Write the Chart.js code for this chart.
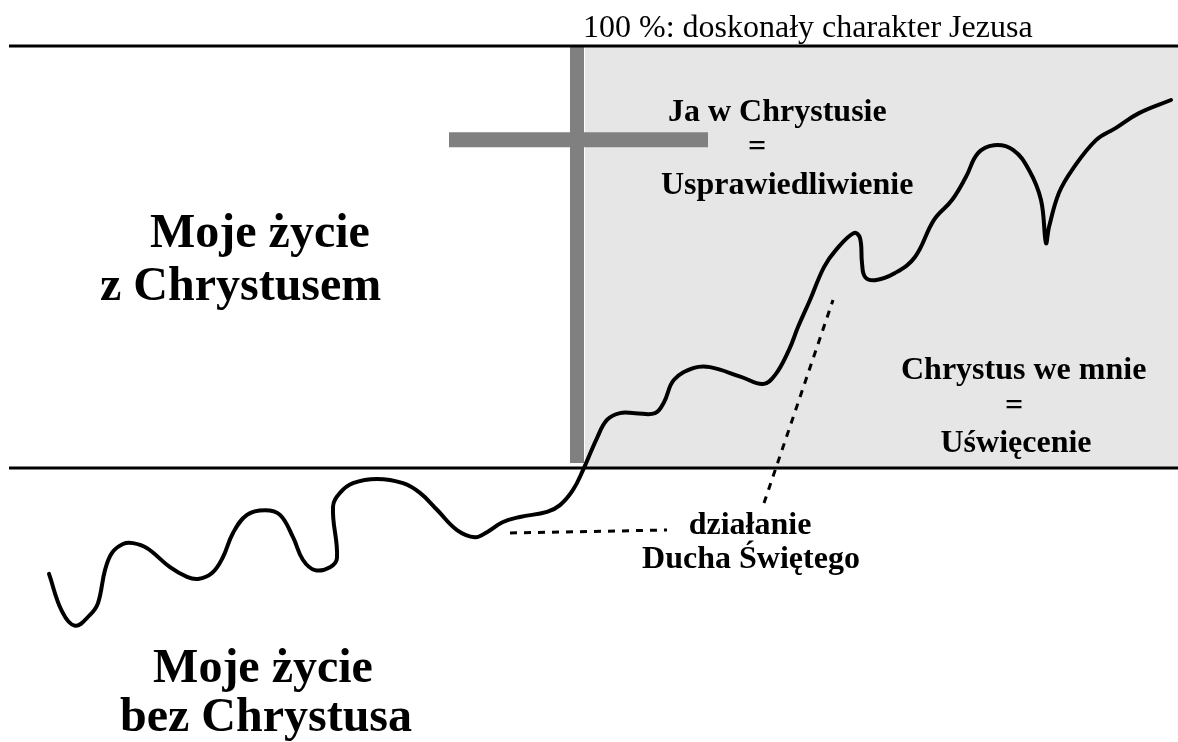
<!DOCTYPE html>
<html>
<head>
<meta charset="utf-8">
<script src="https://cdn.jsdelivr.net/npm/chart.js@4"></script>
<style>
  html, body { margin: 0; padding: 0; background: #ffffff; }
  #wrap { width: 1178px; height: 742px; }
</style>
</head>
<body>
<div id="wrap"><canvas id="c" width="1178" height="742"></canvas></div>
<script>
// ---- data (x: time axis, y: % of Jesus' character, 0 = life without Christ line, 100 = perfect) ----
const lifeX = [49,62,75,90,98,105,112,123,133,147,170,187,198,212,223,233,247,265,280,293,303,315,330,337,333,340,353,377,403,420,437,457,475,487,503,520,547,560,573,583,597,607,620,635,655,664,674,694,710,741,763,775,789,798,810,824,836,854,860,862,865,875,895,915,934,952,966,978,994,1013,1029,1041,1046,1049,1059,1072,1096,1116,1139,1171];
const lifeY = [-25.1,-34.0,-37.4,-34.8,-32.0,-24.2,-20.1,-18.0,-17.8,-19.0,-23.5,-25.8,-26.3,-24.9,-21.1,-15.4,-11.1,-10.0,-11.1,-16.4,-21.8,-24.2,-23.5,-21.3,-9.2,-5.9,-3.6,-2.6,-3.6,-5.9,-9.9,-14.7,-16.4,-15.2,-12.8,-11.6,-10.4,-8.8,-5.2,-0.5,7.1,11.4,13.0,13.0,13.0,15.6,20.9,23.7,23.9,21.6,19.9,22.0,28.0,33.4,39.8,47.6,51.7,55.7,54.5,48.6,45.3,44.5,46.2,50.0,58.8,63.5,69.0,74.6,76.5,75.4,70.6,63.5,53.3,57.1,65.2,70.6,77.7,80.6,84.1,87.2];

const levelX = [9, 1178];          // extent of the 0 % and 100 % lines
const topLevel = [100, 100];       // 100 %: perfect character
const baseLevel = [0, 0];          // 0 %
const graceX = [585, 1178];        // shaded "in Christ" zone
const graceY = [100, 100];
const crossStemX = [577, 577];
const crossStemY = [100, 1.2];
const crossBeamX = [449, 708];
const crossBeamY = [77.8, 77.8];
const spiritHX = [510, 667];
const spiritHY = [-15.4, -14.7];
const spiritDX = [764, 833];
const spiritDY = [-8.3, 39.8];

const labels = [
  "100 %: doskonały charakter Jezusa",
  "Ja w Chrystusie", "=", "Usprawiedliwienie",
  "Moje życie", "z Chrystusem",
  "Chrystus we mnie", "=", "Uświęcenie",
  "działanie", "Ducha Świętego",
  "Moje życie", "bez Chrystusa"
];

// ---- layout / styles (separate from data) ----
const labelLayout = [
  { x: 583, y: 37,  align: 'left',   font: '32px "Liberation Serif"' },
  { x: 668, y: 121, align: 'left',   font: 'bold 32px "Liberation Serif"' },
  { x: 757, y: 156, align: 'center', font: 'bold 32px "Liberation Serif"' },
  { x: 661, y: 194, align: 'left',   font: 'bold 32px "Liberation Serif"' },
  { x: 150, y: 247, align: 'left',   font: 'bold 48px "Liberation Serif"' },
  { x: 100, y: 300, align: 'left',   font: 'bold 48px "Liberation Serif"' },
  { x: 901, y: 379, align: 'left',   font: 'bold 32px "Liberation Serif"' },
  { x: 1014, y: 415, align: 'center', font: 'bold 32px "Liberation Serif"' },
  { x: 1016, y: 452, align: 'center', font: 'bold 32px "Liberation Serif"' },
  { x: 750, y: 534, align: 'center', font: 'bold 32px "Liberation Serif"' },
  { x: 751, y: 568, align: 'center', font: 'bold 32px "Liberation Serif"' },
  { x: 263, y: 682, align: 'center', font: 'bold 48px "Liberation Serif"' },
  { x: 266, y: 731, align: 'center', font: 'bold 48px "Liberation Serif"' }
];

const pts = (xs, ys) => xs.map((x, i) => ({ x: x, y: ys[i] }));

const textPlugin = {
  id: 'diagramText',
  afterDatasetsDraw(chart) {
    const ctx = chart.ctx;
    ctx.save();
    ctx.fillStyle = '#000000';
    ctx.textBaseline = 'alphabetic';
    labels.forEach((t, i) => {
      const L = labelLayout[i];
      ctx.font = L.font;
      ctx.textAlign = L.align;
      ctx.fillText(t, L.x, L.y);
    });
    ctx.restore();
  }
};

const common = { showLine: true, pointRadius: 0, pointHoverRadius: 0, borderCapStyle: 'butt', tension: 0 };

new Chart(document.getElementById('c'), {
  type: 'scatter',
  data: {
    datasets: [
      Object.assign({}, common, { label: 'życie', data: pts(lifeX, lifeY), borderColor: '#000000', borderWidth: 4, tension: 0.4, borderCapStyle: 'round', borderJoinStyle: 'round', order: 0 }),
      Object.assign({}, common, { label: 'duch1', data: pts(spiritHX, spiritHY), borderColor: '#000000', borderWidth: 3, borderDash: [7, 7], order: 1 }),
      Object.assign({}, common, { label: 'duch2', data: pts(spiritDX, spiritDY), borderColor: '#000000', borderWidth: 3, borderDash: [7, 7], order: 1 }),
      Object.assign({}, common, { label: '100', data: pts(levelX, topLevel), borderColor: '#000000', borderWidth: 3, order: 2 }),
      Object.assign({}, common, { label: '0', data: pts(levelX, baseLevel), borderColor: '#000000', borderWidth: 3, order: 2 }),
      Object.assign({}, common, { label: 'krzyż1', data: pts(crossStemX, crossStemY), borderColor: '#808080', borderWidth: 14, order: 3 }),
      Object.assign({}, common, { label: 'krzyż2', data: pts(crossBeamX, crossBeamY), borderColor: '#808080', borderWidth: 15, order: 3 }),
      Object.assign({}, common, { label: 'łaska', data: pts(graceX, graceY), borderColor: 'rgba(0,0,0,0)', borderWidth: 0, backgroundColor: '#e6e6e6', fill: 'origin', order: 4 })
    ]
  },
  options: {
    responsive: false,
    animation: false,
    events: [],
    layout: { padding: 0 },
    plugins: { legend: { display: false }, tooltip: { enabled: false } },
    scales: {
      x: { type: 'linear', display: false, min: 0, max: 1178 },
      y: { type: 'linear', display: false, min: -64.93, max: 110.9 }
    }
  },
  plugins: [textPlugin]
});
</script>
</body>
</html>
